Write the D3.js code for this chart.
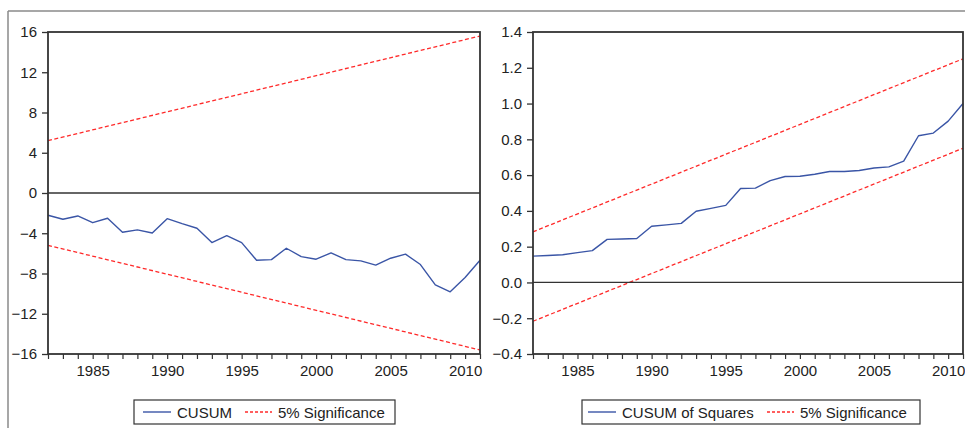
<!DOCTYPE html>
<html>
<head>
<meta charset="utf-8">
<script src="https://cdn.jsdelivr.net/npm/d3@7"></script>
<style>
  html, body { margin: 0; padding: 0; background: #fff; }
  svg { display: block; }
  text { font-family: "Liberation Sans", Arial, sans-serif; fill: #222; }
</style>
</head>
<body>
<svg id="chart" width="965" height="428"></svg>
<script>
// ---- data ----
const years = [1982,1983,1984,1985,1986,1987,1988,1989,1990,1991,1992,1993,1994,1995,1996,
               1997,1998,1999,2000,2001,2002,2003,2004,2005,2006,2007,2008,2009,2010,2011];
const cusum = [-2.21,-2.61,-2.28,-2.95,-2.51,-3.90,-3.67,-3.97,-2.55,-3.05,-3.50,-4.93,-4.24,-4.93,-6.68,
               -6.62,-5.49,-6.32,-6.58,-5.95,-6.62,-6.75,-7.17,-6.48,-6.08,-7.11,-9.13,-9.82,-8.40,-6.68];
const cusumSq = [0.147,0.151,0.155,0.167,0.178,0.241,0.243,0.246,0.314,0.322,0.330,0.398,0.414,0.431,0.525,
                 0.527,0.569,0.592,0.594,0.605,0.620,0.620,0.626,0.640,0.646,0.678,0.820,0.835,0.902,1.000];
const bandYears = [1982, 2011];
const cusumUpper = [5.2, 15.6];
const cusumLower = [-5.2, -15.6];
const sqUpper = [0.283, 1.25];
const sqLower = [-0.217, 0.75];
const xTickYears = [1985, 1990, 1995, 2000, 2005, 2010];
const cusumTicks = [-16, -12, -8, -4, 0, 4, 8, 12, 16];
const sqTicks = [-0.4, -0.2, 0.0, 0.2, 0.4, 0.6, 0.8, 1.0, 1.2, 1.4];
const legendLeft = ["CUSUM", "5% Significance"];
const legendRight = ["CUSUM of Squares", "5% Significance"];

const BLUE = "#3a55a6", RED = "#ff2a2a", AXIS = "#333";
const svg = d3.select("#chart");

// outer frame
svg.append("line").attr("x1", 8).attr("x2", 965).attr("y1", 11).attr("y2", 11)
  .attr("stroke", "#8a8a8a").attr("stroke-width", 1.5);
svg.append("line").attr("x1", 8).attr("x2", 8).attr("y1", 11).attr("y2", 428)
  .attr("stroke", "#8a8a8a").attr("stroke-width", 1.5);

function panel(opts) {
  const x = d3.scaleLinear().domain([1982, 2011]).range([opts.x0, opts.x1]);
  const y = d3.scaleLinear().domain(opts.yDomain).range([354, 32]);
  const g = svg.append("g");

  // bands
  const bandLine = d3.line().x((d, i) => x(bandYears[i])).y(d => y(d));
  [opts.upper, opts.lower].forEach(b => {
    g.append("path").attr("d", bandLine(b)).attr("fill", "none")
      .attr("stroke", RED).attr("stroke-width", 1.3).attr("stroke-dasharray", "4,2.5");
  });
  // zero line
  g.append("line").attr("x1", opts.x0).attr("x2", opts.x1).attr("y1", y(0)).attr("y2", y(0))
    .attr("stroke", AXIS).attr("stroke-width", 1.3);
  // series
  const line = d3.line().x((d, i) => x(years[i])).y(d => y(d));
  g.append("path").attr("d", line(opts.values)).attr("fill", "none")
    .attr("stroke", BLUE).attr("stroke-width", 1.4).attr("stroke-linejoin", "round");

  // frame
  g.append("rect").attr("x", opts.x0).attr("y", 32).attr("width", opts.x1 - opts.x0).attr("height", 322)
    .attr("fill", "none").attr("stroke", AXIS).attr("stroke-width", 1.8);

  // y axis
  const ya = d3.axisLeft(y).tickValues(opts.yTicks).tickSize(6).tickPadding(5).tickFormat(opts.fmt);
  const yg = g.append("g").attr("transform", `translate(${opts.x0},0)`).call(ya);
  yg.select(".domain").remove();
  yg.selectAll("line").attr("stroke", AXIS).attr("stroke-width", 1.3);
  yg.selectAll("text").style("font-size", "15px").style("font-family", '"Liberation Sans", Arial, sans-serif').attr("fill", "#222");

  // x axis: minor ticks each year, labels
  const xa = d3.axisBottom(x).tickValues(years).tickSize(5).tickFormat(d => xTickYears.includes(d) ? d : "");
  const xg = g.append("g").attr("transform", `translate(0,354)`).call(xa);
  xg.select(".domain").remove();
  xg.selectAll("line").attr("stroke", AXIS).attr("stroke-width", 1.2);
  xg.selectAll("text").style("font-size", "15px").style("font-family", '"Liberation Sans", Arial, sans-serif')
    .attr("fill", "#222").attr("dy", "0.95em");

  // legend
  const L = opts.legend;
  const lg = g.append("g");
  lg.append("rect").attr("x", L.x).attr("y", 400).attr("width", L.w).attr("height", 24)
    .attr("fill", "#fff").attr("stroke", AXIS).attr("stroke-width", 1.2);
  lg.append("line").attr("x1", L.l1).attr("x2", L.l1 + 28).attr("y1", 412).attr("y2", 412)
    .attr("stroke", BLUE).attr("stroke-width", 1.4);
  lg.append("text").attr("x", L.l1 + 34).attr("y", 417.5).style("font-size", "15px").text(L.labels[0]);
  lg.append("line").attr("x1", L.l2).attr("x2", L.l2 + 27).attr("y1", 412).attr("y2", 412)
    .attr("stroke", RED).attr("stroke-width", 1.3).attr("stroke-dasharray", "3,2");
  lg.append("text").attr("x", L.l2 + 33).attr("y", 417.5).style("font-size", "15px").text(L.labels[1]);
}

panel({
  x0: 48, x1: 480, yDomain: [-16, 16], values: cusum, upper: cusumUpper, lower: cusumLower,
  yTicks: cusumTicks, fmt: d3.format("d"),
  legend: { x: 134, w: 261, l1: 143, l2: 245, labels: legendLeft }
});
panel({
  x0: 533, x1: 963, yDomain: [-0.4, 1.4], values: cusumSq, upper: sqUpper, lower: sqLower,
  yTicks: sqTicks, fmt: d3.format(".1f"),
  legend: { x: 582, w: 338, l1: 588, l2: 767, labels: legendRight }
});
</script>
</body>
</html>
